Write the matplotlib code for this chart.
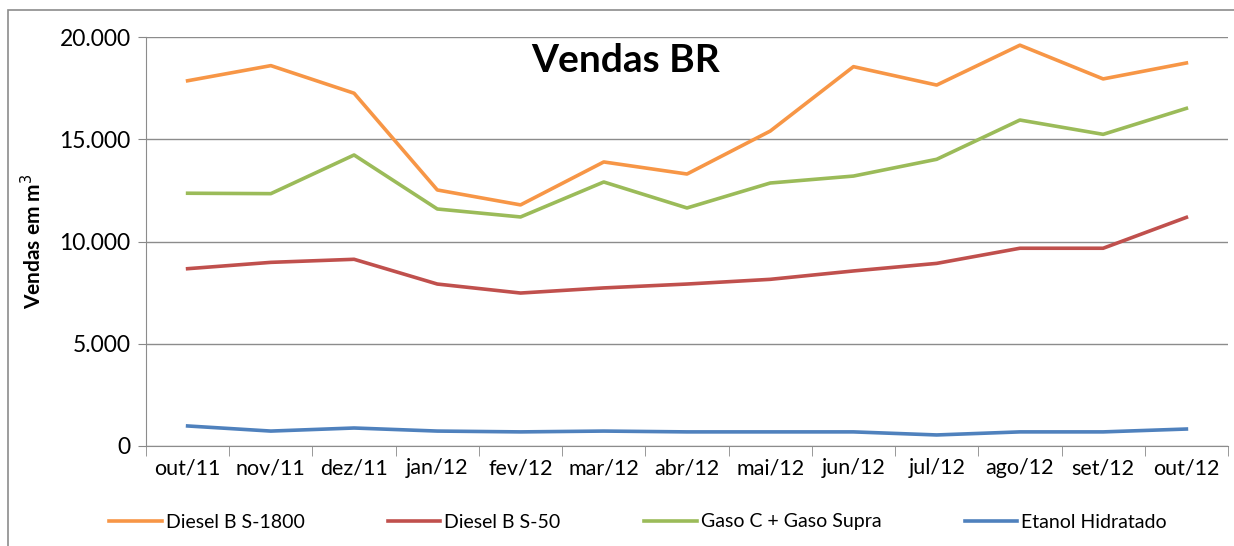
import matplotlib
matplotlib.use('Agg')
import matplotlib.pyplot as plt
from matplotlib.ticker import FuncFormatter
from matplotlib.patches import Rectangle

meses = ["out/11", "nov/11", "dez/11", "jan/12", "fev/12", "mar/12", "abr/12",
         "mai/12", "jun/12", "jul/12", "ago/12", "set/12", "out/12"]

diesel_s1800 = [17860, 18600, 17250, 12520, 11790, 13890, 13300, 15400, 18550, 17650, 19600, 17950, 18730]
diesel_s50 = [8670, 8980, 9130, 7920, 7480, 7730, 7920, 8150, 8560, 8930, 9670, 9670, 11180]
gaso = [12360, 12340, 14230, 11590, 11200, 12910, 11640, 12860, 13200, 14020, 15940, 15240, 16510]
etanol = [980, 730, 880, 730, 690, 730, 690, 690, 690, 540, 690, 690, 830]

series = [
    ("Diesel B S-1800", diesel_s1800, "#F79646"),
    ("Diesel B S-50", diesel_s50, "#C0504D"),
    ("Gaso C + Gaso Supra", gaso, "#9BBB59"),
    ("Etanol Hidratado", etanol, "#4F81BD"),
]

plt.rcParams['font.family'] = ['Lato', 'DejaVu Sans']

fig = plt.figure(figsize=(12.34, 5.46), dpi=100)
ax = fig.add_axes([146/1234, 1 - 446/546, (1228-146)/1234, (446-37)/546])

x = list(range(len(meses)))
for nome, valores, cor in series:
    ax.plot(x, valores, color=cor, linewidth=2.6, label=nome)

ax.set_xlim(-0.5, len(meses) - 0.5)
ax.set_ylim(0, 20000)
ax.set_yticks([0, 5000, 10000, 15000, 20000])
ax.yaxis.set_major_formatter(FuncFormatter(lambda v, p: f"{int(v):,}".replace(",", ".")))
ax.set_xticks(x)
ax.set_xticklabels(meses)
ax.set_xticks([i - 0.5 for i in range(len(meses) + 1)], minor=True)
ax.tick_params(axis='x', which='major', length=0, pad=9, labelsize=15.5)
ax.tick_params(axis='x', which='minor', length=7, color='#888888', direction='out')
ax.tick_params(axis='y', length=6, color='#888888', labelsize=16.5, pad=5)

ax.grid(axis='y', color='#8c8c8c', linewidth=1.0)
ax.set_axisbelow(True)
for s in ['top', 'right']:
    ax.spines[s].set_visible(False)
ax.spines['left'].set_color('#8c8c8c')
ax.spines['bottom'].set_color('#8c8c8c')

ax.set_ylabel("Vendas em m$^3$", fontsize=15, fontweight='bold', labelpad=10)
ax.text((626-146)/1082, (446-60)/409, "Vendas BR", transform=ax.transAxes, ha='center', va='center',
        fontsize=28, fontweight='bold')

fig.legend(loc='center', bbox_to_anchor=(638/1234, 1 - 522/546), ncol=4, frameon=False,
           fontsize=14, handlelength=2.7, columnspacing=4.3, handletextpad=0.2)

fig.patches.append(Rectangle((8/1234, -0.02), 1.1, 1 - 10/546 + 0.02, transform=fig.transFigure,
                             fill=False, edgecolor='#8c8c8c', linewidth=1.2))

fig.savefig("out.png", dpi=100)
